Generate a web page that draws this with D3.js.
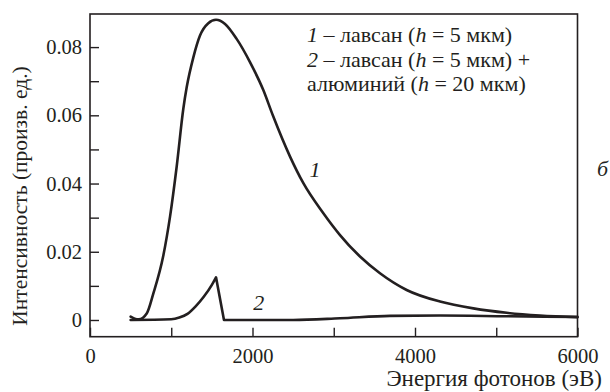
<!DOCTYPE html>
<html><head><meta charset="utf-8">
<script src="https://cdn.jsdelivr.net/npm/d3@7"></script>
<style>body{margin:0;background:#fff}svg{display:block}</style>
</head><body>
<svg id="c" width="610" height="392"></svg>
<script>
const energy1 = [500,550,600,700,780,900,985,1067,1149,1190,1272,1354,1456,1551,1662,1805,1969,2133,2250,2462,2626,2872,3077,3323,3569,3897,4308,4718,5128,5538,6000];
const intens1 = [0.0010,0.0004,0.0002,0.0020,0.0078,0.0186,0.0303,0.0450,0.0620,0.0682,0.0770,0.0834,0.0870,0.0880,0.0868,0.0824,0.0756,0.0674,0.0600,0.0479,0.0401,0.0313,0.0249,0.0186,0.0137,0.0088,0.0054,0.0034,0.0021,0.0013,0.0008];
const energy2 = [500,1000,1100,1200,1300,1400,1500,1551,1649,2500,3077,3692,4308,5128,6000];
const intens2 = [0,0.0002,0.0007,0.0018,0.0040,0.0068,0.0103,0.0125,0,0,0.0005,0.0012,0.0013,0.0011,0.0009];
const xTicks = [0,1000,2000,3000,4000,5000,6000];
const xLabels = ["0","","2000","","4000","","6000"];
const yTicks = [0,0.01,0.02,0.03,0.04,0.05,0.06,0.07,0.08];
const yLabels = ["0","","0.02","","0.04","","0.06","","0.08"];
const xTitle = "Энергия фотонов (эВ)";
const yTitle = "Интенсивность (произв. ед.)";
const legendLines = [
  [["1","i"],[" – лавсан (",""],["h","i"],[" = 5 мкм)",""]],
  [["2","i"],[" – лавсан (",""],["h","i"],[" = 5 мкм) +",""]],
  [["алюминий (",""],["h","i"],[" = 20 мкм)",""]]
];

const FONT = "Liberation Serif, Times New Roman, serif";
const INK = "#231f20";
const svg = d3.select("#c").attr("font-family",FONT);
const L=90, R=577.5, T=14, B=336.7;
const x = d3.scaleLinear().domain([0,6000]).range([L,R]);
const y = d3.scaleLinear().domain([-0.0049,0.0897]).range([B,T]);
const fsTick = 20.5, fsLeg = 22, fsX = 23, fsY = 21.5;

svg.append("rect").attr("x",L).attr("y",T).attr("width",R-L).attr("height",B-T)
  .attr("fill","none").attr("stroke",INK).attr("stroke-width",1.6);

const gx = svg.append("g").attr("transform",`translate(0,${B})`)
  .call(d3.axisBottom(x).tickValues(xTicks).tickSizeInner(-9).tickSizeOuter(0).tickPadding(0)
    .tickFormat((d,i)=>xLabels[i]));
gx.attr("font-size",fsTick).attr("font-family",FONT);
gx.select(".domain").remove();
gx.selectAll("line").attr("stroke",INK).attr("stroke-width",1.4);
gx.selectAll("text").attr("fill",INK).attr("y",26).attr("dy",null);

const gy = svg.append("g").attr("transform",`translate(${L},0)`)
  .call(d3.axisLeft(y).tickValues(yTicks).tickSizeInner(-9).tickSizeOuter(0).tickPadding(8)
    .tickFormat((d,i)=>yLabels[i]));
gy.attr("font-size",fsTick).attr("font-family",FONT);
gy.select(".domain").remove();
gy.selectAll("line").attr("stroke",INK).attr("stroke-width",1.4);
gy.selectAll("text").attr("fill",INK);

const d1 = energy1.map((e,i)=>[e,intens1[i]]);
const d2 = energy2.map((e,i)=>[e,intens2[i]]);
const smooth = d3.line().x(d=>x(d[0])).y(d=>y(d[1])).curve(d3.curveMonotoneX);
const straight = d3.line().x(d=>x(d[0])).y(d=>y(d[1]));
const style = p => p.attr("fill","none").attr("stroke",INK).attr("stroke-width",2.6)
  .attr("stroke-linejoin","round").attr("stroke-linecap","round");
svg.append("path").attr("d",smooth(d1)).call(style);
const pk = 7;
svg.append("path").attr("d",smooth(d2.slice(0,pk+1))+straight(d2.slice(pk,pk+2)).replace(/^M[^L]*/,"")+smooth(d2.slice(pk+1)).replace(/^M[^C]*/,"")).call(style);

const txt = (xx,yy,fs) => svg.append("text").attr("x",xx).attr("y",yy).attr("font-size",fs).attr("fill",INK);
txt(602,386,fsX).attr("text-anchor","end").text(xTitle);
svg.append("text").attr("transform",`translate(27,196) rotate(-90)`).attr("text-anchor","middle")
  .attr("font-size",fsY).attr("fill",INK).text(yTitle);

legendLines.forEach((parts,i)=>{
  const t = txt(307,42+i*24.5,fsLeg);
  parts.forEach(p=>t.append("tspan").attr("font-style",p[1]==="i"?"italic":null).text(p[0]));
});

txt(x(2700),y(0.0419),fsLeg).attr("font-style","italic").text("1");
txt(x(2010),y(0.0029),fsLeg).attr("font-style","italic").text("2");
txt(597,176,fsLeg).attr("font-style","italic").text("б");
</script>
</body></html>
